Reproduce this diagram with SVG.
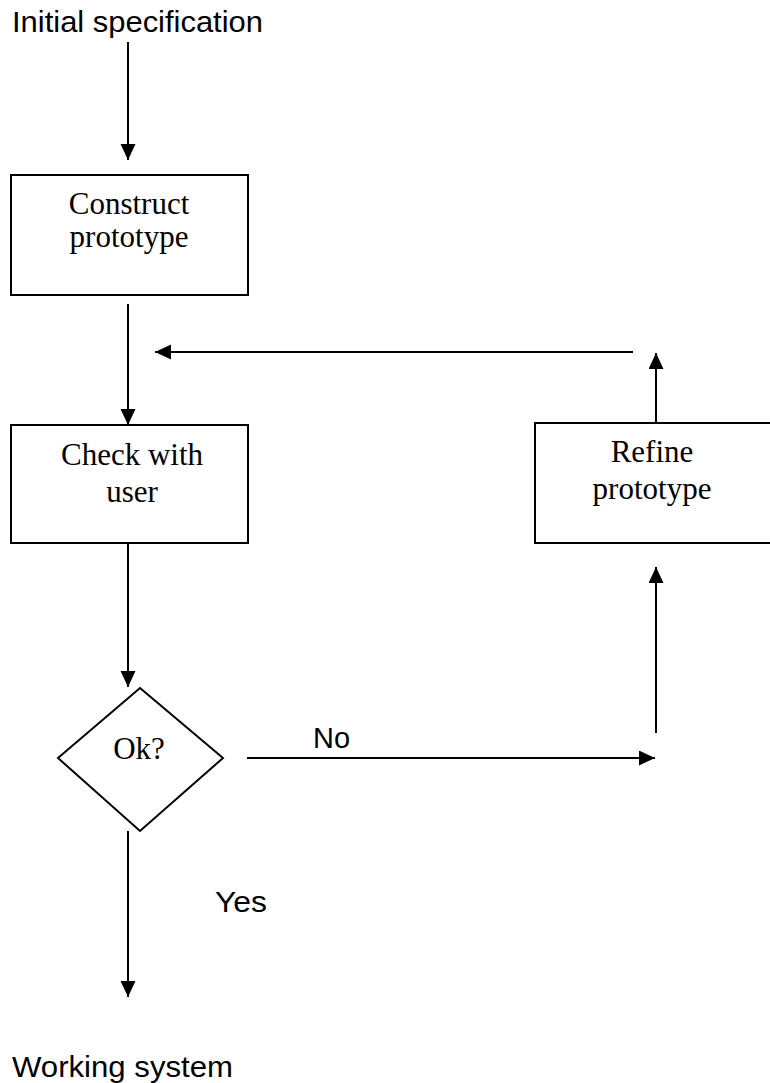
<svg xmlns="http://www.w3.org/2000/svg" width="770" height="1083" viewBox="0 0 770 1083">
<style>
.box{fill:#fff;stroke:#000;stroke-width:2}
.ln{fill:none;stroke:#000;stroke-width:2}
.tr{font-family:"Liberation Serif","Times New Roman",serif;font-size:31px;fill:#000;text-anchor:middle}
.ar{font-family:"Liberation Sans",Arial,sans-serif;font-size:30px;fill:#000}
</style>
<defs>
<marker id="ah" markerUnits="userSpaceOnUse" markerWidth="17" markerHeight="16" refX="16" refY="7.5" orient="auto">
<path d="M0,0 L16,7.5 L0,15 z" fill="#000"/>
</marker>
</defs>
<rect width="770" height="1083" fill="#fff"/>
<g id="connectors">
<line class="ln" x1="128" y1="42" x2="128" y2="160" marker-end="url(#ah)"/>
<line class="ln" x1="128" y1="304" x2="128" y2="425" marker-end="url(#ah)"/>
<line class="ln" x1="633" y1="352" x2="155" y2="352" marker-end="url(#ah)"/>
<line class="ln" x1="128" y1="543" x2="128" y2="687" marker-end="url(#ah)"/>
<line class="ln" x1="247" y1="758" x2="655" y2="758" marker-end="url(#ah)"/>
<line class="ln" x1="656" y1="733" x2="656" y2="567" marker-end="url(#ah)"/>
<line class="ln" x1="656" y1="423" x2="656" y2="353" marker-end="url(#ah)"/>
<line class="ln" x1="128" y1="831" x2="128" y2="997" marker-end="url(#ah)"/>
<text class="ar" x="313" y="748" textLength="37" lengthAdjust="spacingAndGlyphs">No</text>
<text class="ar" x="215" y="912" textLength="52" lengthAdjust="spacingAndGlyphs">Yes</text>
</g>
<g id="start"><text class="ar" x="12" y="32" textLength="251" lengthAdjust="spacingAndGlyphs">Initial specification</text></g>
<g id="construct">
<rect class="box" x="11" y="175" width="237" height="120"/>
<text class="tr" x="129" y="214">Construct</text>
<text class="tr" x="129" y="247">prototype</text>
</g>
<g id="check">
<rect class="box" x="11" y="425" width="237" height="118"/>
<text class="tr" x="132" y="465">Check with</text>
<text class="tr" x="132" y="502">user</text>
</g>
<g id="refine">
<rect class="box" x="535" y="423" width="240" height="120"/>
<text class="tr" x="652" y="462">Refine</text>
<text class="tr" x="652" y="499">prototype</text>
</g>
<g id="ok">
<polygon class="box" points="140,688 223,758 140,831 58,758"/>
<text class="tr" x="139" y="759">Ok?</text>
</g>
<g id="end"><text class="ar" x="12" y="1077" textLength="221" lengthAdjust="spacingAndGlyphs">Working system</text></g>
</svg>
